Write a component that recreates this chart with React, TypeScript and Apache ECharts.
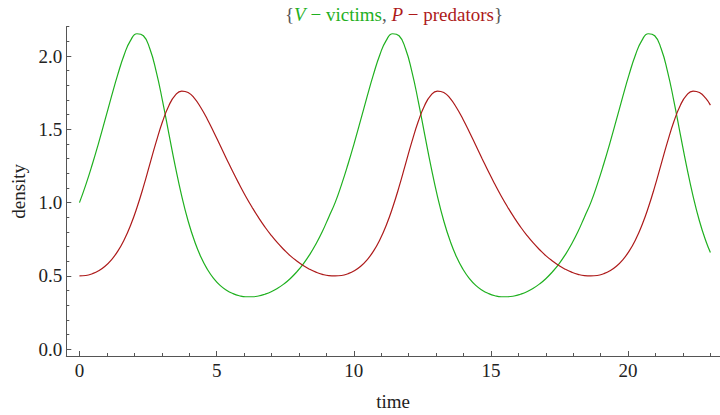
import { useEffect, useRef } from "react";
import * as echarts from "echarts";

// Lotka–Volterra solution sampled over three cycles: victims V(t) and predators P(t)
const time = [
  0, 0.233, 0.466, 0.699, 0.932, 1.165, 1.398, 1.631, 1.864, 2.097, 2.33, 2.563, 2.796, 3.029,
  3.262, 3.495, 3.728, 3.961, 4.194, 4.427, 4.66, 4.893, 5.126, 5.359, 5.592, 5.825, 6.058, 6.291,
  6.524, 6.757, 6.99, 7.223, 7.456, 7.689, 7.922, 8.155, 8.388, 8.621, 8.854, 9.087,
  9.32, 9.553, 9.786, 10.019, 10.252, 10.485, 10.718, 10.951, 11.184, 11.417, 11.65, 11.883,
  12.116, 12.349, 12.582, 12.815, 13.048, 13.281, 13.514, 13.747, 13.98, 14.213, 14.446, 14.679,
  14.912, 15.145, 15.378, 15.611, 15.844, 16.077, 16.31, 16.543, 16.776, 17.009, 17.242, 17.475,
  17.708, 17.941, 18.174, 18.407,
  18.64, 18.873, 19.106, 19.339, 19.572, 19.805, 20.038, 20.271, 20.504, 20.737, 20.97, 21.203,
  21.436, 21.669, 21.902, 22.135, 22.368, 22.601, 22.834, 23,
];
const victims = [
  1.0, 1.123, 1.26, 1.408, 1.564, 1.723, 1.875, 2.009, 2.107, 2.152, 2.138, 2.051, 1.896, 1.693,
  1.468, 1.246, 1.045, 0.875, 0.738, 0.629, 0.546, 0.483, 0.436, 0.403, 0.38, 0.365, 0.358, 0.358,
  0.363, 0.375, 0.392, 0.416, 0.446, 0.483, 0.528, 0.581, 0.644, 0.718, 0.803, 0.901,
  1.0, 1.123, 1.26, 1.408, 1.564, 1.723, 1.875, 2.009, 2.107, 2.152, 2.138, 2.051, 1.896, 1.693,
  1.468, 1.246, 1.045, 0.875, 0.738, 0.629, 0.546, 0.483, 0.436, 0.403, 0.38, 0.365, 0.358, 0.358,
  0.363, 0.375, 0.392, 0.416, 0.446, 0.483, 0.528, 0.581, 0.644, 0.718, 0.803, 0.901,
  1.0, 1.123, 1.26, 1.408, 1.564, 1.723, 1.875, 2.009, 2.107, 2.152, 2.138, 2.051, 1.896, 1.693,
  1.468, 1.246, 1.045, 0.875, 0.738, 0.66,
];
const predators = [
  0.5, 0.503, 0.515, 0.535, 0.566, 0.61, 0.669, 0.747, 0.846, 0.967, 1.107, 1.261, 1.414, 1.553,
  1.663, 1.733, 1.761, 1.751, 1.711, 1.647, 1.569, 1.482, 1.391, 1.3, 1.21, 1.125, 1.044, 0.969,
  0.899, 0.835, 0.777, 0.725, 0.679, 0.637, 0.602, 0.571, 0.546, 0.526, 0.511, 0.502,
  0.5, 0.503, 0.515, 0.535, 0.566, 0.61, 0.669, 0.747, 0.846, 0.967, 1.107, 1.261, 1.414, 1.553,
  1.663, 1.733, 1.761, 1.751, 1.711, 1.647, 1.569, 1.482, 1.391, 1.3, 1.21, 1.125, 1.044, 0.969,
  0.899, 0.835, 0.777, 0.725, 0.679, 0.637, 0.602, 0.571, 0.546, 0.526, 0.511, 0.502,
  0.5, 0.503, 0.515, 0.535, 0.566, 0.61, 0.669, 0.747, 0.846, 0.967, 1.107, 1.261, 1.414, 1.553,
  1.663, 1.733, 1.761, 1.751, 1.711, 1.665,
];

const xMajorTicks = [0, 5, 10, 15, 20];
const xMinorTicks = [1, 2, 3, 4, 6, 7, 8, 9, 11, 12, 13, 14, 16, 17, 18, 19, 21, 22, 23];
const yMajorTicks = [0, 0.5, 1, 1.5, 2];
const yMinorTicks = [
  0.1, 0.2, 0.3, 0.4, 0.6, 0.7, 0.8, 0.9, 1.1, 1.2, 1.3, 1.4, 1.6, 1.7, 1.8, 1.9, 2.1, 2.2,
];

const GREEN = "#1fb01f";
const RED = "#ad1a1a";
const AXIS = "#555555";
const FONT = "Liberation Serif";

const X_MIN = -0.48;
const X_MAX = 23.35;
const Y_MIN = -0.046;
const Y_MAX = 2.2;

export default function App() {
  const ref = useRef<HTMLDivElement>(null);

  useEffect(() => {
    if (!ref.current) return;
    const chart = echarts.init(ref.current, undefined, { renderer: "svg" });

    const baseX = {
      type: "value" as const,
      min: X_MIN,
      max: X_MAX,
      position: "bottom" as const,
      splitLine: { show: false },
    };
    const baseY = {
      type: "value" as const,
      min: Y_MIN,
      max: Y_MAX,
      position: "left" as const,
      splitLine: { show: false },
    };

    chart.setOption({
      animation: false,
      backgroundColor: "#ffffff",
      grid: {
        left: 66.3,
        right: 0,
        top: 26.7,
        bottom: 59,
        containLabel: false,
        outerBoundsMode: "none",
      },
      graphic: [
        {
          type: "text",
          x: 394,
          y: 14,
          style: {
            text: "{{v|V}{g| − victims}, {p|P}{r| − predators}}",
            align: "center",
            verticalAlign: "middle",
            fontFamily: FONT,
            fontSize: 19,
            fill: "#555555",
            rich: {
              v: { fontFamily: FONT, fontSize: 19, fontStyle: "italic", fill: GREEN, color: GREEN },
              g: { fontFamily: FONT, fontSize: 19, fill: GREEN, color: GREEN },
              p: { fontFamily: FONT, fontSize: 19, fontStyle: "italic", fill: RED, color: RED },
              r: { fontFamily: FONT, fontSize: 19, fill: RED, color: RED },
            },
          },
        },
      ],
      xAxis: [
        {
          ...baseX,
          name: "time",
          nameLocation: "middle",
          nameGap: 36,
          nameTextStyle: { fontFamily: FONT, fontSize: 19, color: "#222222" },
          axisLine: { show: true, onZero: false, lineStyle: { color: AXIS, width: 1 } },
          axisTick: {
            show: true,
            inside: true,
            length: 5,
            customValues: xMajorTicks,
            lineStyle: { color: AXIS, width: 1 },
          },
          axisLabel: {
            show: true,
            customValues: xMajorTicks,
            formatter: (v: number) => String(v),
            margin: 5,
            fontFamily: FONT,
            fontSize: 19,
            color: "#222222",
          },
        },
        {
          ...baseX,
          axisLine: { show: false, onZero: false },
          axisTick: {
            show: true,
            inside: true,
            length: 3,
            customValues: xMinorTicks,
            lineStyle: { color: AXIS, width: 1 },
          },
          axisLabel: { show: false },
        },
      ],
      yAxis: [
        {
          ...baseY,
          name: "density",
          nameLocation: "middle",
          nameGap: 37,
          nameRotate: 90,
          nameTextStyle: { fontFamily: FONT, fontSize: 19, color: "#222222" },
          axisLine: { show: true, onZero: false, lineStyle: { color: AXIS, width: 1 } },
          axisTick: {
            show: true,
            inside: true,
            length: 5,
            customValues: yMajorTicks,
            lineStyle: { color: AXIS, width: 1 },
          },
          axisLabel: {
            show: true,
            customValues: yMajorTicks,
            formatter: (v: number) => v.toFixed(1),
            margin: 4,
            fontFamily: FONT,
            fontSize: 19,
            color: "#222222",
          },
        },
        {
          ...baseY,
          axisLine: { show: false, onZero: false },
          axisTick: {
            show: true,
            inside: true,
            length: 3,
            customValues: yMinorTicks,
            lineStyle: { color: AXIS, width: 1 },
          },
          axisLabel: { show: false },
        },
      ],
      series: [
        {
          name: "V",
          type: "line",
          xAxisIndex: 0,
          yAxisIndex: 0,
          data: time.map((t, i) => [t, victims[i]]),
          showSymbol: false,
          smooth: 0.5,
          lineStyle: { color: GREEN, width: 1.2 },
          itemStyle: { color: GREEN },
        },
        {
          name: "P",
          type: "line",
          xAxisIndex: 0,
          yAxisIndex: 0,
          data: time.map((t, i) => [t, predators[i]]),
          showSymbol: false,
          smooth: 0.5,
          lineStyle: { color: RED, width: 1.2 },
          itemStyle: { color: RED },
        },
      ],
    });

    return () => chart.dispose();
  }, []);

  return (
    <div
      ref={ref}
      style={{ position: "fixed", left: 0, top: 0, width: 720, height: 415, background: "#fff" }}
    />
  );
}
